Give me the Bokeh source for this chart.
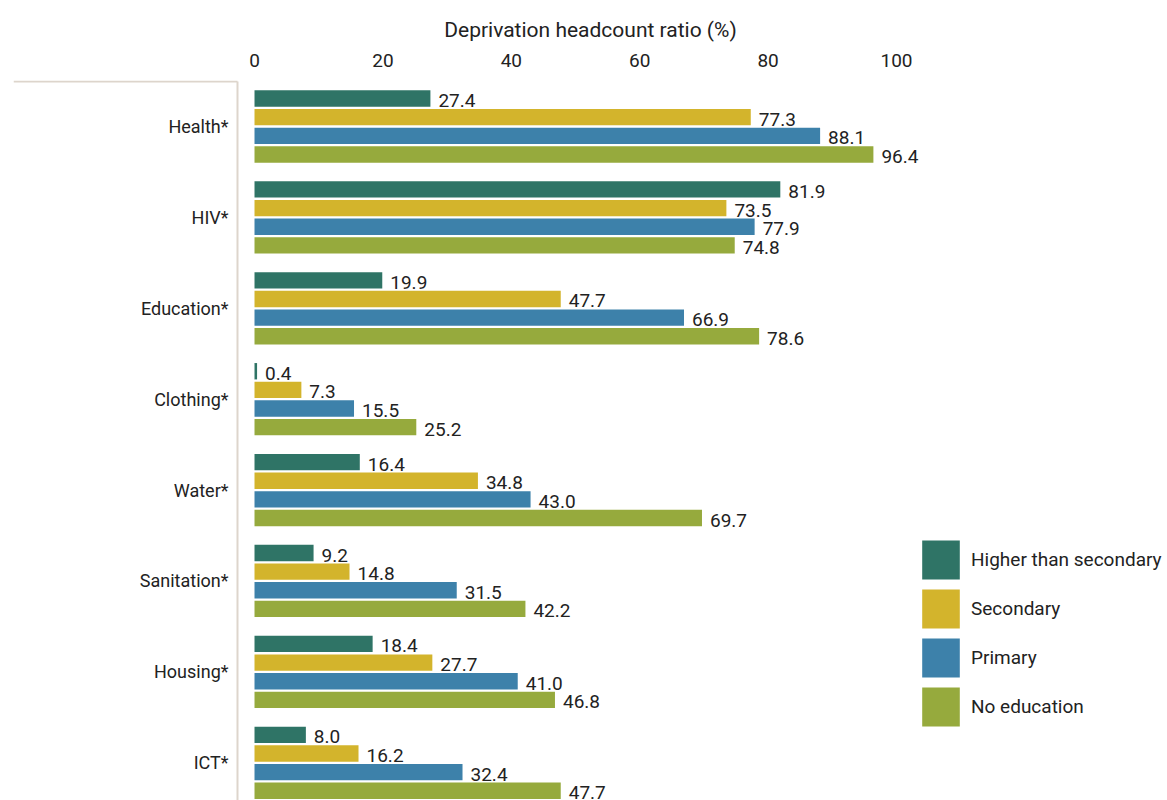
from bokeh.plotting import figure
from bokeh.models import Range1d, FixedTicker, Legend, LegendItem
from bokeh.core.properties import value
from bokeh.embed import file_html
from bokeh.resources import INLINE

categories = ["Health*", "HIV*", "Education*", "Clothing*", "Water*", "Sanitation*", "Housing*", "ICT*"]
series_names = ["Higher than secondary", "Secondary", "Primary", "No education"]
higher = [27.4, 81.9, 19.9, 0.4, 16.4, 9.2, 18.4, 8.0]
secondary = [77.3, 73.5, 47.7, 7.3, 34.8, 14.8, 27.7, 16.2]
primary = [88.1, 77.9, 66.9, 15.5, 43.0, 31.5, 41.0, 32.4]
no_education = [96.4, 74.8, 78.6, 25.2, 69.7, 42.2, 46.8, 47.7]
x_ticks = [0, 20, 40, 60, 80, 100]
colors = ["#2f7466", "#d3b42c", "#3d81aa", "#96aa3d"]

FONT = "Roboto"
TXT = "#222222"
LINE = "#ddd5cc"

X0, X1 = -37.54, 142.21
Y_BOTTOM, Y_TOP = 7.415, -0.506
AXIS_X = -2.65
TOP_Y = -0.495

p = figure(width=1167, height=800, output_backend="svg", toolbar_location=None,
           x_range=Range1d(X0, X1), y_range=Range1d(Y_BOTTOM, Y_TOP),
           x_axis_location="above", y_axis_location=None,
           min_border_left=13, min_border_right=0, min_border_top=80, min_border_bottom=0)
p.outline_line_color = None
p.grid.visible = False
p.background_fill_color = "white"

ax = p.xaxis[0]
ax.ticker = FixedTicker(ticks=x_ticks)
ax.axis_line_color = None
ax.major_tick_line_color = None
ax.minor_tick_line_color = None
ax.major_tick_out = 0
ax.major_label_standoff = 14
ax.major_label_text_font = FONT
ax.major_label_text_font_size = "19px"
ax.major_label_text_color = TXT
ax.axis_label = "Deprivation headcount ratio (%)"
ax.axis_label_text_font = FONT
ax.axis_label_text_font_size = "21px"
ax.axis_label_text_font_style = "normal"
ax.axis_label_text_color = TXT
ax.axis_label_standoff = 9

series = [higher, secondary, primary, no_education]
pitch = 0.205
renderers = []
idx = list(range(len(categories)))
for k, (vals, col) in enumerate(zip(series, colors)):
    ys = [i + (k - 1.5) * pitch for i in idx]
    r = p.hbar(y=ys, left=0, right=vals, height=0.18, fill_color=col, line_color=None)
    renderers.append(r)
    p.text(x=vals, y=ys, text=[f"{v:.1f}" for v in vals], x_offset=8, y_offset=2,
           text_baseline="middle", text_align="left", text_font=value(FONT),
           text_font_size="19px", text_color=TXT)

p.text(x=[AXIS_X] * len(categories), y=idx, text=categories, x_offset=-9,
       text_baseline="middle", text_align="right", text_font=value(FONT),
       text_font_size="18px", text_color=TXT)

p.segment(x0=[X0], y0=[TOP_Y], x1=[AXIS_X], y1=[TOP_Y], line_color=LINE, line_width=2)
p.segment(x0=[AXIS_X], y0=[TOP_Y], x1=[AXIS_X], y1=[Y_BOTTOM + 1], line_color=LINE, line_width=2)

legend = Legend(items=[LegendItem(label=n, renderers=[r]) for n, r in zip(series_names, renderers)],
                location=(904, 69), glyph_width=47, glyph_height=49, spacing=0, padding=0, margin=0,
                label_standoff=7, border_line_color=None, background_fill_alpha=0,
                label_text_font=FONT, label_text_font_size="19px", label_text_color=TXT)
p.add_layout(legend)

open("out.html", "w").write(file_html(p, INLINE))
